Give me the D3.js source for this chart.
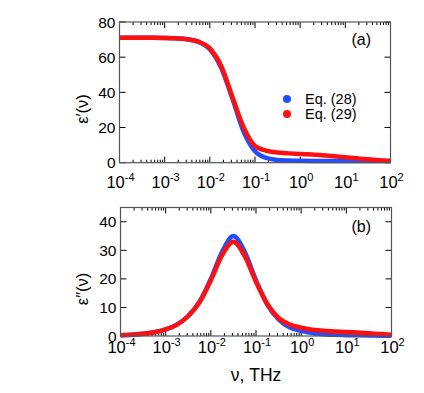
<!DOCTYPE html>
<html>
<head>
<meta charset="utf-8">
<script src="https://cdn.jsdelivr.net/npm/d3@7"></script>
<style>
  body { margin: 0; background: #fff; }
  svg text { font-family: "Liberation Sans", Arial, Helvetica, sans-serif; fill: #000; }
</style>
</head>
<body>
<div id="chart"></div>
<script>
// frequency samples (THz), quarter-decade steps from 1e-4 to 1e2
const freq = [1e-4, 1.78e-4, 3.16e-4, 5.62e-4, 1e-3, 1.78e-3, 3.16e-3, 5.62e-3,
              1e-2, 1.78e-2, 3.16e-2, 5.62e-2, 1e-1, 1.78e-1, 3.16e-1, 5.62e-1,
              1, 1.78, 3.16, 5.62, 10, 17.8, 31.6, 56.2, 100];

// real part, panel (a)
const epsRe28 = [71.0, 71.0, 71.0, 71.0, 70.9, 70.7, 70.2, 68.7, 64.5, 54.0, 36.5, 17.5,
                 6.5, 2.7, 1.6, 1.2, 1.05, 1.0, 1.0, 1.0, 1.0, 1.0, 1.0, 1.0, 1.0];
const epsRe29 = [71.0, 71.0, 71.0, 71.0, 70.9, 70.7, 70.2, 68.8, 65.0, 55.0, 37.5, 20.0,
                 9.5, 6.8, 5.8, 5.3, 4.9, 4.6, 4.2, 3.7, 3.1, 2.5, 1.9, 1.4, 1.0];

// imaginary part, panel (b)
const epsIm28 = [0.3, 0.45, 0.75, 1.3, 2.3, 4.0, 7.0, 12.0, 20.0, 29.5, 35.0, 29.5,
                 19.5, 11.0, 5.8, 3.0, 1.8, 1.0, 0.6, 0.4, 0.3, 0.22, 0.16, 0.12, 0.1];
const epsIm29 = [0.3, 0.45, 0.75, 1.3, 2.3, 4.0, 7.0, 11.8, 19.5, 28.3, 33.0, 28.0,
                 19.0, 11.2, 6.3, 4.0, 2.9, 2.2, 1.8, 1.6, 1.4, 1.2, 0.95, 0.7, 0.45];

const xTickExp = [-4, -3, -2, -1, 0, 1, 2];
const yTicksA = [0, 20, 40, 60, 80];
const yTicksB = [0, 10, 20, 30, 40];
const seriesNames = ["Eq. (28)", "Eq. (29)"];
const colors = ["#1f4fff", "#ff1010"];

const width = 424, height = 393;
const svg = d3.select("#chart").append("svg")
    .attr("width", width).attr("height", height);

const panels = [
    { x0: 119.5, x1: 390.5, y0: 22, y1: 162.7, ymax: 80, yTicks: yTicksA,
      series: [epsRe28, epsRe29], tag: "(a)", tagY: 45, prime: "\u2032",
      labelY: 109, tickLabelY: 188 },
    { x0: 120.5, x1: 391.5, y0: 207.5, y1: 336, ymax: 45, yTicks: yTicksB,
      series: [epsIm28, epsIm29], tag: "(b)", tagY: 232, prime: "\u2033",
      labelY: 289, tickLabelY: 352.5 }
];

panels.forEach(p => {
    const x = d3.scaleLog().domain([1e-4, 1e2]).range([p.x0, p.x1]);
    const y = d3.scaleLinear().domain([0, p.ymax]).range([p.y1, p.y0]);
    const g = svg.append("g");

    // minor + major ticks on top and bottom (inward)
    const minor = [];
    for (let e = -4; e < 2; e++) for (let k = 2; k <= 9; k++) minor.push(k * Math.pow(10, e));
    const majors = xTickExp.map(e => Math.pow(10, e));
    [[p.y1, -1], [p.y0, 1]].forEach(([yy, dir]) => {
        g.selectAll(null).data(minor).join("line")
            .attr("x1", d => x(d)).attr("x2", d => x(d))
            .attr("y1", yy).attr("y2", yy + dir * 3)
            .attr("stroke", "#000").attr("stroke-width", 1);
        g.selectAll(null).data(majors).join("line")
            .attr("x1", d => x(d)).attr("x2", d => x(d))
            .attr("y1", yy).attr("y2", yy + dir * 6)
            .attr("stroke", "#000").attr("stroke-width", 1);
    });
    // y ticks left and right (inward)
    [[p.x0, 1], [p.x1, -1]].forEach(([xx, dir]) => {
        g.selectAll(null).data(p.yTicks).join("line")
            .attr("x1", xx).attr("x2", xx + dir * 6)
            .attr("y1", d => y(d)).attr("y2", d => y(d))
            .attr("stroke", "#000").attr("stroke-width", 1);
    });

    // curves
    const line = d3.line()
        .x((d, i) => x(freq[i]))
        .y(d => y(d))
        .curve(d3.curveMonotoneX);
    p.series.forEach((s, i) => {
        g.append("path").datum(s)
            .attr("d", line)
            .attr("fill", "none")
            .attr("stroke", colors[i])
            .attr("stroke-width", 4.5)
            .attr("stroke-linejoin", "round");
    });

    // frame
    g.append("rect")
        .attr("x", p.x0).attr("y", p.y0)
        .attr("width", p.x1 - p.x0).attr("height", p.y1 - p.y0)
        .attr("fill", "none").attr("stroke", "#555").attr("stroke-width", 1.2);

    // y tick labels
    g.selectAll(null).data(p.yTicks).join("text")
        .attr("x", p.x0 - 4).attr("y", d => y(d) + 5.5)
        .attr("text-anchor", "end").attr("font-size", 15.5)
        .text(d => d);

    // x tick labels 10^n
    const xl = g.selectAll(null).data(xTickExp).join("text")
        .attr("x", d => x(Math.pow(10, d)) + 1)
        .attr("y", p.tickLabelY)
        .attr("text-anchor", "middle").attr("font-size", 16.5);
    xl.append("tspan").text("10");
    xl.append("tspan").attr("dy", -7).attr("font-size", 11).text(d => d);

    // y axis label
    g.append("text")
        .attr("transform", `translate(88,${p.labelY}) rotate(-90)`)
        .attr("text-anchor", "middle").attr("font-size", 16.5)
        .text("\u03b5" + p.prime + "(\u03bd)");

    // panel tag
    g.append("text")
        .attr("x", 371).attr("y", p.tagY)
        .attr("text-anchor", "end").attr("font-size", 16)
        .text(p.tag);
});

// legend in panel (a)
const legend = svg.append("g");
seriesNames.forEach((name, i) => {
    legend.append("circle")
        .attr("cx", 287).attr("cy", 99 + i * 15).attr("r", 4)
        .attr("fill", colors[i]);
    legend.append("text")
        .attr("x", 305).attr("y", 104 + i * 15)
        .attr("font-size", 14.5)
        .text(name);
});

// x axis label
svg.append("text")
    .attr("x", 256).attr("y", 381)
    .attr("text-anchor", "middle").attr("font-size", 17.5)
    .text("\u03bd, THz");
</script>
</body>
</html>
